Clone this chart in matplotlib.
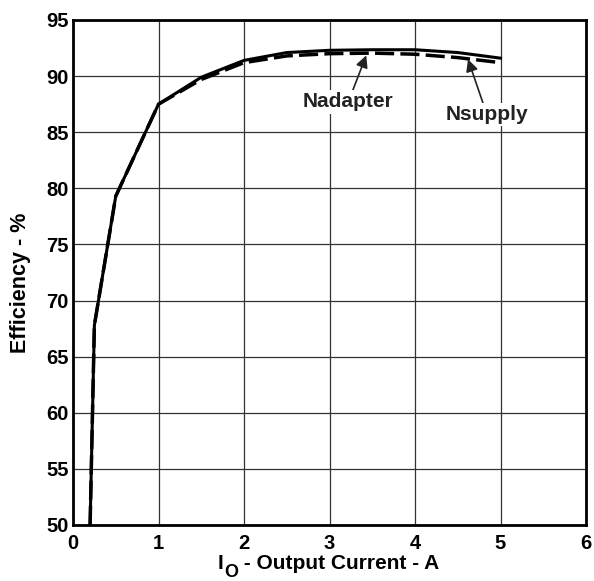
"""
Efficiency vs output current, two curves (supply and adapter).
"""

import matplotlib
matplotlib.use("Agg")
import matplotlib.pyplot as plt

# data
current = [0.2, 0.25, 0.5, 1.0, 1.5, 2.0, 2.5, 3.0, 3.5, 4.0, 4.5, 5.0]
eff_supply = [50.0, 67.8, 79.3, 87.5, 89.9, 91.4, 92.1, 92.3, 92.35, 92.35, 92.1, 91.6]
eff_adapter = [50.0, 67.8, 79.3, 87.5, 89.7, 91.2, 91.8, 92.0, 92.05, 91.95, 91.65, 91.2]

x_ticks = [0, 1, 2, 3, 4, 5, 6]
y_ticks = [50, 55, 60, 65, 70, 75, 80, 85, 90, 95]

plt.rcParams["font.family"] = ["Liberation Sans", "DejaVu Sans"]
plt.rcParams["font.weight"] = "bold"


def main():
    fig = plt.figure(figsize=(5.94, 5.81), dpi=100)
    ax = fig.add_axes([73 / 594, 1 - 525 / 581, (586 - 73) / 594, (525 - 20) / 581])

    ax.plot(current, eff_adapter, color="black", lw=2.5, ls=(0, (5.5, 1.8)))
    ax.plot(current, eff_supply, color="black", lw=2.2)

    ax.set_xlim(0, 6)
    ax.set_ylim(50, 95)
    ax.set_xticks(x_ticks)
    ax.set_yticks(y_ticks)
    ax.tick_params(length=0, labelsize=14.5)
    ax.tick_params(axis="x", pad=6.5)
    ax.tick_params(axis="y", pad=3)
    for lab in ax.get_xticklabels() + ax.get_yticklabels():
        lab.set_fontweight("bold")
    ax.grid(True, color="#333333", lw=0.9)
    ax.set_axisbelow(True)
    for sp in ax.spines.values():
        sp.set_linewidth(2)

    ax.set_ylabel("Efficiency - %", fontsize=15.5, fontweight="bold")
    ax.yaxis.set_label_coords(-0.082, 0.48)

    # x label: I with a large, low subscript O, then the rest
    t_i = fig.text(218 / 594, 1 - 569 / 581, "I", fontsize=15, fontweight="bold",
                   va="baseline", ha="left")
    t_o = ax.annotate("O", xy=(1, 0), xycoords=t_i, xytext=(0.5, -5.5),
                      textcoords="offset points", fontsize=13, fontweight="bold",
                      va="bottom", ha="left")
    ax.annotate(" - Output Current - A", xy=(1, 0), xycoords=(t_o, t_i),
                fontsize=15, fontweight="bold", va="bottom", ha="left")

    arrow = dict(arrowstyle="-|>", color="#222222", lw=1.2, mutation_scale=18,
                 shrinkA=0, shrinkB=0)
    ax.annotate("Nadapter", xy=(3.43, 91.85), xytext=(3.22, 87.7),
                ha="center", va="center", fontsize=15, fontweight="bold",
                color="#222222", arrowprops=arrow,
                bbox=dict(boxstyle="square,pad=0.1", fc="white", ec="none"))
    ax.annotate("Nsupply", xy=(4.62, 91.5), xytext=(4.84, 86.6),
                ha="center", va="center", fontsize=15, fontweight="bold",
                color="#222222", arrowprops=arrow,
                bbox=dict(boxstyle="square,pad=0.1", fc="white", ec="none"))

    fig.savefig("out.png", dpi=100)


if __name__ == "__main__":
    main()
